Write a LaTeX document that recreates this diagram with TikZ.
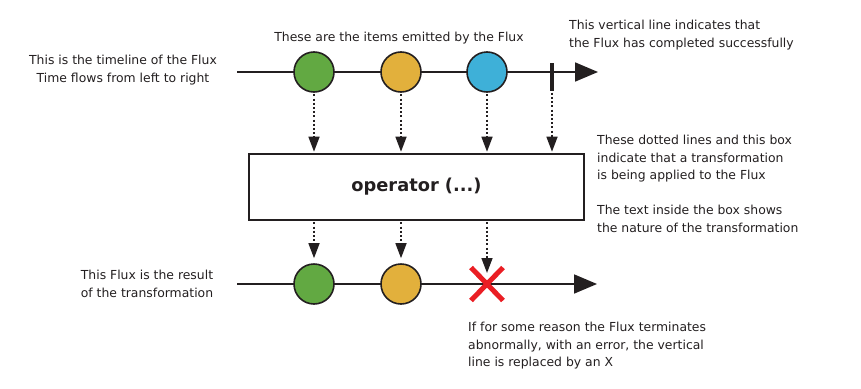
\documentclass[tikz,border=0pt]{standalone}
\usepackage{fontspec}
\setmainfont{DejaVu Sans}
\usepackage{tikz}
\usetikzlibrary{arrows.meta,positioning,shapes.misc}
\definecolor{ink}{RGB}{35,31,32}
\definecolor{itemgreen}{RGB}{98,169,66}
\definecolor{itemyellow}{RGB}{226,176,60}
\definecolor{itemblue}{RGB}{62,176,216}
\definecolor{errred}{RGB}{234,30,36}

\begin{document}
\begin{tikzpicture}[x=1pt, y=-1pt,
  font=\fontsize{12.4}{17.5}\selectfont,
  timeline/.style={-{Triangle[length=23pt,width=19pt]}, line width=1.8pt,
    draw=ink},
  item/.style={circle, draw=ink, line width=1.6pt, minimum size=40pt,
    inner sep=0pt},
  opbox/.style={draw=ink, line width=1.6pt, fill=white,
    minimum width=335pt, minimum height=66pt, text=ink,
    font=\fontsize{17.8}{20}\selectfont\bfseries},
  dots/.style={-{Triangle[length=15pt,width=11pt]}, line width=1.5pt,
    draw=ink, dash pattern=on 2pt off 2.2pt, shorten <=1.5pt},
  note/.style={inner sep=0pt, text=ink, align=left}
]
\useasboundingbox (0,0) rectangle (861,388);

\coordinate (top start) at (237,72);
\coordinate (top end) at (598,72);
\coordinate (bottom start) at (237,284);
\coordinate (bottom end) at (597,284);
\draw[timeline] (top start) -- (top end);
\draw[timeline] (bottom start) -- (bottom end);

\node[item, fill=itemgreen] (g1) at (314,72) {};
\node[item, fill=itemyellow] (y1) at (401,72) {};
\node[item, fill=itemblue] (b1) at (487,72) {};
\node[fill=ink, minimum width=3.5pt, minimum height=28pt,
  inner sep=0pt] (done) at (552,77) {};

\node[opbox] (op) at (416.5,187) {operator (...)};

\node[item, fill=itemgreen] (g2) at (314,284) {};
\node[item, fill=itemyellow] (y2) at (401,284) {};
\node[cross out, draw=errred, line width=5pt, minimum width=27pt,
  minimum height=28pt, inner sep=0pt] (err) at (487,284) {};

\foreach \n in {g1,y1,b1,done}
  \draw[dots, shorten >=1.5pt] (\n.south) -- (\n.south |- op.north);
\draw[dots, shorten >=5pt] (op.south -| g2) -- (g2.north);
\draw[dots, shorten >=5pt] (op.south -| y2) -- (y2.north);
\draw[dots, shorten >=11pt] (op.south -| err) -- (err.center);

\node[note, align=center] (timeline text) at (123,70)
  {This is the timeline of the Flux\\Time flows from left to right};
\node[note] (items text) at (399,38)
  {These are the items emitted by the Flux};
\node[note, anchor=west] (done text) at (569,35)
  {This vertical line indicates that\\the Flux has completed successfully};
\node[note, anchor=west] (op text) at (597,184)
  {These dotted lines and this box\\indicate that a transformation\\
   is being applied to the Flux\\[17.5pt]The text inside the box shows\\
   the nature of the transformation};
\node[note, align=center] (result text) at (147,284)
  {This Flux is the result\\of the transformation};
\node[note, anchor=west] (err text) at (468,346)
  {If for some reason the Flux terminates\\abnormally, with an error, the vertical\\
   line is replaced by an X};
\end{tikzpicture}
\end{document}
